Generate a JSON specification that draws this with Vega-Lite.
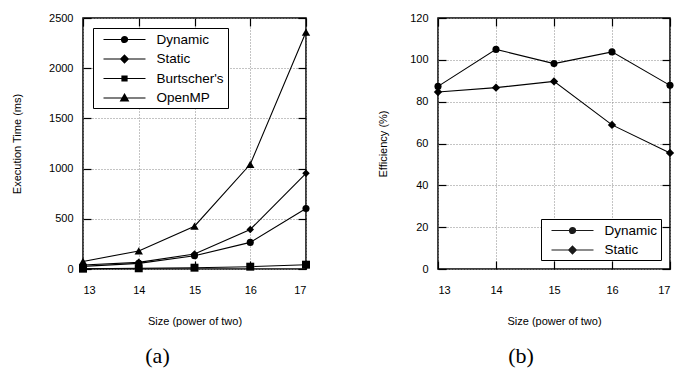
{
  "$schema": "https://vega.github.io/schema/vega-lite/v6.json",
  "padding": {"left": 10, "top": 11, "right": 0, "bottom": 0},
  "bounds": "flush",
  "spacing": 132,
  "config": {
    "font": "Liberation Sans",
    "view": {"stroke": "black", "strokeWidth": 1.5},
    "scale": {"nice": false},
    "axis": {
      "labelFont": "Liberation Sans", "labelFontSize": 11, "labelColor": "black",
      "titleFont": "Liberation Sans", "titleFontSize": 11, "titleFontWeight": "normal", "titleColor": "black",
      "domain": false, "tickColor": "black", "tickSize": -8, "tickWidth": 1.2,
      "gridColor": "#888", "gridDash": [1, 2], "gridWidth": 1, "gridOpacity": 1
    },
    "legend": {
      "labelFont": "Liberation Sans", "labelFontSize": 13.5, "labelColor": "black",
      "strokeColor": "black", "strokeWidth": 1, "fillColor": "white", "padding": 3.5,
      "symbolSize": 196, "labelOffset": 44, "rowPadding": 4.5, "symbolStrokeWidth": 1.2,
      "symbolOpacity": 1
    }
  },
  "datasets": {
    "time": [
      {"size": 13, "series": "Dynamic", "ms": 26},
      {"size": 14, "series": "Dynamic", "ms": 56},
      {"size": 15, "series": "Dynamic", "ms": 132},
      {"size": 16, "series": "Dynamic", "ms": 265},
      {"size": 17, "series": "Dynamic", "ms": 602},
      {"size": 13, "series": "Static", "ms": 40},
      {"size": 14, "series": "Static", "ms": 66},
      {"size": 15, "series": "Static", "ms": 149},
      {"size": 16, "series": "Static", "ms": 394},
      {"size": 17, "series": "Static", "ms": 953},
      {"size": 13, "series": "Burtscher's", "ms": 3},
      {"size": 14, "series": "Burtscher's", "ms": 7},
      {"size": 15, "series": "Burtscher's", "ms": 13},
      {"size": 16, "series": "Burtscher's", "ms": 23},
      {"size": 17, "series": "Burtscher's", "ms": 43},
      {"size": 13, "series": "OpenMP", "ms": 75},
      {"size": 14, "series": "OpenMP", "ms": 180},
      {"size": 15, "series": "OpenMP", "ms": 426},
      {"size": 16, "series": "OpenMP", "ms": 1043},
      {"size": 17, "series": "OpenMP", "ms": 2360}
    ],
    "eff": [
      {"size": 13, "series": "Dynamic", "pct": 87.3},
      {"size": 14, "series": "Dynamic", "pct": 105},
      {"size": 15, "series": "Dynamic", "pct": 98.2},
      {"size": 16, "series": "Dynamic", "pct": 103.8},
      {"size": 17, "series": "Dynamic", "pct": 87.8},
      {"size": 13, "series": "Static", "pct": 84.6},
      {"size": 14, "series": "Static", "pct": 86.7},
      {"size": 15, "series": "Static", "pct": 89.7},
      {"size": 16, "series": "Static", "pct": 68.9},
      {"size": 17, "series": "Static", "pct": 55.5}
    ]
  },
  "hconcat": [
    {
      "width": 223, "height": 251,
      "data": {"name": "time"},
      "title": {"text": "(a)", "orient": "bottom", "font": "Liberation Serif", "fontSize": 22, "fontWeight": "normal", "color": "black", "dx": -37, "offset": 20},
      "layer": [
        {
          "mark": {"type": "line", "color": "black", "strokeWidth": 1.1},
          "encoding": {
            "x": {"field": "size", "type": "quantitative", "scale": {"domain": [13, 17], "nice": false, "zero": false},
                  "axis": {"title": "Size (power of two)", "values": [13, 14, 15, 16, 17], "format": "d", "labelPadding": 23, "titlePadding": 20}},
            "y": {"field": "ms", "type": "quantitative", "scale": {"domain": [0, 2500], "nice": false},
                  "axis": {"title": "Execution Time (ms)", "values": [0, 500, 1000, 1500, 2000, 2500], "format": "d", "labelPadding": 18, "titlePadding": 26}},
            "detail": {"field": "series"}
          }
        },
        {
          "mark": {"type": "point", "filled": true, "color": "black", "opacity": 1},
          "encoding": {
            "x": {"field": "size", "type": "quantitative", "scale": {"domain": [13, 17]}, "axis": {"orient": "top", "labels": false, "title": null, "grid": false, "values": [13, 14, 15, 16, 17]}},
            "y": {"field": "ms", "type": "quantitative", "scale": {"domain": [0, 2500]}, "axis": {"orient": "right", "labels": false, "title": null, "grid": false, "values": [0, 500, 1000, 1500, 2000, 2500]}},
            "shape": {"field": "series", "type": "nominal", "scale": {"domain": ["Dynamic", "Static", "Burtscher's", "OpenMP"], "range": ["circle", "diamond", "square", "triangle-up"]}, "legend": null},
            "size": {"field": "series", "type": "nominal", "scale": {"domain": ["Dynamic", "Static", "Burtscher's", "OpenMP"], "range": [50, 70, 38, 60]}, "legend": null}
          }
        },
        {
          "transform": [{"filter": "false"}],
          "mark": {"type": "point", "filled": false, "color": "black", "strokeWidth": 1.2, "opacity": 1},
          "encoding": {
            "x": {"field": "size", "type": "quantitative", "scale": {"domain": [13, 17]}, "axis": null},
            "y": {"field": "ms", "type": "quantitative", "scale": {"domain": [0, 2500]}, "axis": null},
            "shape": {"field": "series", "type": "nominal",
              "scale": {"domain": ["Dynamic", "Static", "Burtscher's", "OpenMP"],
                        "range": ["M-0.143,0L5.857,0M2.427,0A0.43,0.43,0,1,1,3.287,0A0.43,0.43,0,1,1,2.427,0ZM2.547,0A0.31,0.31,0,1,1,3.167,0A0.31,0.31,0,1,1,2.547,0ZM2.667,0A0.19,0.19,0,1,1,3.047,0A0.19,0.19,0,1,1,2.667,0ZM2.787,0A0.07,0.07,0,1,1,2.927,0A0.07,0.07,0,1,1,2.787,0Z",
                                  "M-0.143,0L5.857,0M2.857,-0.55L3.407,0L2.857,0.55L2.307,0ZM2.857,-0.43L3.287,0L2.857,0.43L2.427,0ZM2.857,-0.31L3.167,0L2.857,0.31L2.547,0ZM2.857,-0.19L3.047,0L2.857,0.19L2.667,0ZM2.857,-0.07L2.927,0L2.857,0.07L2.787,0Z",
                                  "M-0.143,0L5.857,0M2.497,-0.36L3.217,-0.36L3.217,0.36L2.497,0.36ZM2.617,-0.24L3.097,-0.24L3.097,0.24L2.617,0.24ZM2.737,-0.12L2.977,-0.12L2.977,0.12L2.737,0.12ZM2.837,-0.02L2.877,-0.02L2.877,0.02L2.837,0.02Z",
                                  "M-0.143,0L5.857,0M2.857,-0.55L3.407,0.4L2.307,0.4ZM2.857,-0.36L3.242,0.305L2.472,0.305ZM2.857,-0.17L3.077,0.21L2.637,0.21ZM2.857,0.02L2.912,0.115L2.802,0.115Z"]},
              "legend": {"title": null, "orient": "top-left", "offset": 10}
            }
          }
        }
      ],
      "resolve": {"axis": {"x": "independent", "y": "independent"}, "scale": {"shape": "independent", "size": "independent"}}
    },
    {
      "width": 232, "height": 251,
      "data": {"name": "eff"},
      "title": {"text": "(b)", "orient": "bottom", "font": "Liberation Serif", "fontSize": 22, "fontWeight": "normal", "color": "black", "dx": -33, "offset": 20},
      "layer": [
        {
          "mark": {"type": "line", "color": "black", "strokeWidth": 1.1},
          "encoding": {
            "x": {"field": "size", "type": "quantitative", "scale": {"domain": [13, 17], "nice": false, "zero": false},
                  "axis": {"title": "Size (power of two)", "values": [13, 14, 15, 16, 17], "format": "d", "labelPadding": 23, "titlePadding": 20}},
            "y": {"field": "pct", "type": "quantitative", "scale": {"domain": [0, 120], "nice": false},
                  "axis": {"title": "Efficiency (%)", "values": [0, 20, 40, 60, 80, 100, 120], "format": "d", "labelPadding": 18, "titlePadding": 21}},
            "detail": {"field": "series"}
          }
        },
        {
          "mark": {"type": "point", "filled": true, "color": "black", "opacity": 1},
          "encoding": {
            "x": {"field": "size", "type": "quantitative", "scale": {"domain": [13, 17]}, "axis": {"orient": "top", "labels": false, "title": null, "grid": false, "values": [13, 14, 15, 16, 17]}},
            "y": {"field": "pct", "type": "quantitative", "scale": {"domain": [0, 120]}, "axis": {"orient": "right", "labels": false, "title": null, "grid": false, "values": [0, 20, 40, 60, 80, 100, 120]}},
            "shape": {"field": "series", "type": "nominal", "scale": {"domain": ["Dynamic", "Static"], "range": ["circle", "diamond"]}, "legend": null},
            "size": {"field": "series", "type": "nominal", "scale": {"domain": ["Dynamic", "Static"], "range": [50, 70]}, "legend": null}
          }
        },
        {
          "transform": [{"filter": "false"}],
          "mark": {"type": "point", "filled": false, "color": "#1a1a1a", "strokeWidth": 1.2, "opacity": 1},
          "encoding": {
            "x": {"field": "size", "type": "quantitative", "scale": {"domain": [13, 17]}, "axis": null},
            "y": {"field": "pct", "type": "quantitative", "scale": {"domain": [0, 120]}, "axis": null},
            "shape": {"field": "series", "type": "nominal",
              "scale": {"domain": ["Dynamic", "Static"],
                        "range": ["M-0.143,0L5.857,0M2.427,0A0.43,0.43,0,1,1,3.287,0A0.43,0.43,0,1,1,2.427,0ZM2.547,0A0.31,0.31,0,1,1,3.167,0A0.31,0.31,0,1,1,2.547,0ZM2.667,0A0.19,0.19,0,1,1,3.047,0A0.19,0.19,0,1,1,2.667,0ZM2.787,0A0.07,0.07,0,1,1,2.927,0A0.07,0.07,0,1,1,2.787,0Z",
                                  "M-0.143,0L5.857,0M2.857,-0.55L3.407,0L2.857,0.55L2.307,0ZM2.857,-0.43L3.287,0L2.857,0.43L2.427,0ZM2.857,-0.31L3.167,0L2.857,0.31L2.547,0ZM2.857,-0.19L3.047,0L2.857,0.19L2.667,0ZM2.857,-0.07L2.927,0L2.857,0.07L2.787,0Z"]},
              "legend": {"title": null, "orient": "bottom-right", "offset": 9}
            }
          }
        }
      ],
      "resolve": {"axis": {"x": "independent", "y": "independent"}, "scale": {"shape": "independent", "size": "independent"}}
    }
  ]
}
